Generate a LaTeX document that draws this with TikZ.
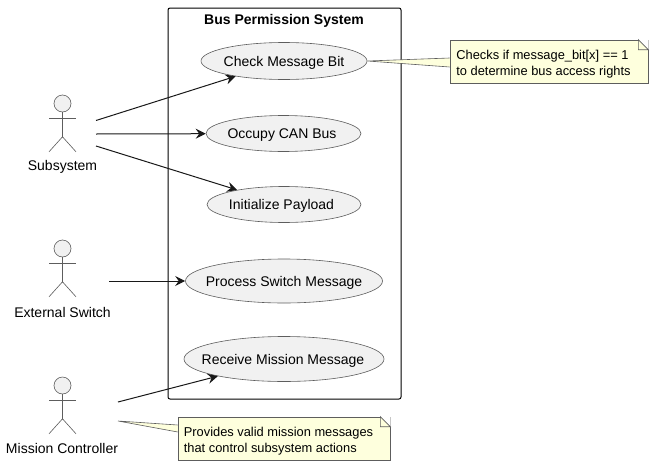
\documentclass[tikz,border=0pt]{standalone}
\usepackage{fontspec}
\setmainfont{Liberation Sans}
\usetikzlibrary{arrows.meta,shapes.geometric}
\definecolor{actfill}{HTML}{F1F1F1}
\definecolor{notefill}{HTML}{FEFFDD}
\definecolor{lnk}{HTML}{181818}
\tikzset{
    usecase/.style={draw=lnk!70, line width=0.6pt, ellipse, fill=actfill, inner sep=0pt},
    uctext/.style={inner sep=0pt, yshift=-1.5pt, font=\fontsize{14}{16}\selectfont},
    actorlabel/.style={inner sep=0pt, font=\fontsize{14}{16}\selectfont},
    note/.style={draw=lnk!70, line width=0.6pt, rectangle, fill=notefill, inner sep=0pt, minimum height=43pt},
    notetext/.style={inner sep=0pt, xshift=-5.5pt, yshift=-2.5pt, align=left, font=\fontsize{12.85}{16.5}\selectfont},
    link/.style={draw=lnk, line width=1pt, -{Stealth[length=10pt, width=10pt, inset=3.5pt]}},
    actorline/.style={draw=lnk!70, line width=0.6pt}
}
% stick figure: #1 name, #2 x, #3 y of the head
\newcommand{\actor}[3]{
    \node (#1Head) [circle, draw=lnk!70, line width=0.6pt, fill=actfill, minimum size=17pt, inner sep=0pt] at (#2,#3) {};
    \draw[actorline] (#1Head.south) -- ++(0,24.5) coordinate (#1Hip);
    \draw[actorline] ([xshift=-13.5pt,yshift=-6pt]#1Head.south) -- ++(27,0);
    \draw[actorline] ([xshift=-13.5pt,yshift=-15pt]#1Hip) -- (#1Hip) -- ++(13.5,15);
}
% folded corner on a note node
\newcommand{\notefold}[1]{
    \fill[white] ([xshift=-10.5pt,yshift=0.4pt]#1.north east) -- ([xshift=0.4pt,yshift=0.4pt]#1.north east) -- ([xshift=0.4pt,yshift=-10.5pt]#1.north east) -- cycle;
    \draw[draw=lnk!70, line width=0.6pt, fill=notefill] ([xshift=-10pt]#1.north east) -- ([yshift=-10pt]#1.north east) -- ([xshift=-10pt,yshift=-10pt]#1.north east) -- cycle;
}
\begin{document}
\begin{tikzpicture}[x=1pt, y=-1pt]
    \useasboundingbox (0,0) rectangle (653,466);

    \node (system) [draw=black, line width=1pt, rounded corners=2pt, minimum width=233pt, minimum height=391pt, inner sep=0pt] at (284.5,203.5) {};
    \node (systemTitle) [inner sep=0pt, font=\fontsize{14}{16}\selectfont\bfseries] at (284,20.5) {Bus Permission System};

    \node (check) [usecase, minimum width=166pt, minimum height=37pt, label={[uctext]center:Check Message Bit}] at (284,61) {};
    \node (occupy) [usecase, minimum width=155pt, minimum height=36pt, label={[uctext, xshift=-1.5pt]center:Occupy CAN Bus}] at (283.5,133.5) {};
    \node (payload) [usecase, minimum width=154pt, minimum height=36pt, label={[uctext, xshift=-2.5pt]center:Initialize Payload}] at (284,204.5) {};
    \node (switchMsg) [usecase, minimum width=197pt, minimum height=44pt, label={[uctext]center:Process Switch Message}] at (284,281) {};
    \node (mission) [usecase, minimum width=200pt, minimum height=45pt, label={[uctext, xshift=-1pt]center:Receive Mission Message}] at (284,359) {};

    \actor{subsystem}{62.5}{103.5}
    \actor{external}{62.5}{248.5}
    \actor{controller}{62.5}{385.5}
    \node (subsystemLabel) [actorlabel] at (62.5,166.5) {Subsystem};
    \node (externalLabel) [actorlabel] at (62.5,312.5) {External Switch};
    \node (controllerLabel) [actorlabel] at (62,448.5) {Mission Controller};

    \coordinate (subA) at (96,120.5);
    \coordinate (subB) at (96,134);
    \coordinate (subC) at (96,146);
    \coordinate (extA) at (109,281);
    \coordinate (ctrlA) at (118,402);
    \coordinate (ctrlB) at (118,421);

    \draw[link] (subA) -- (check);
    \draw[link] (subB) -- (occupy);
    \draw[link] (subC) -- (payload);
    \draw[link] (extA) -- (switchMsg);
    \draw[link] (ctrlA) -- (mission);

    \node (noteCheck) [note, minimum width=198pt, label={[notetext]center:Checks if message\_bit[x] == 1\\to determine bus access rights}] at (549,61.5) {};
    \node (noteCtrl) [note, minimum width=212pt, label={[notetext]center:Provides valid mission messages\\that control subsystem actions}] at (284,438.5) {};
    \notefold{noteCheck}
    \notefold{noteCtrl}

    % tails of the notes
    \draw[draw=lnk!70, line width=0.6pt, fill=notefill] (noteCheck.west |- 0,58) -- (check.east) -- (noteCheck.west |- 0,67);
    \draw[draw=notefill, line width=1pt] ([yshift=-0.6pt]noteCheck.west |- 0,58) -- ([yshift=0.6pt]noteCheck.west |- 0,67);
    \draw[draw=lnk!70, line width=0.6pt, fill=notefill] (noteCtrl.west |- 0,425) -- (ctrlB) -- (noteCtrl.west |- 0,432);
    \draw[draw=notefill, line width=1pt] ([yshift=-0.6pt]noteCtrl.west |- 0,425) -- ([yshift=0.6pt]noteCtrl.west |- 0,432);
\end{tikzpicture}
\end{document}
